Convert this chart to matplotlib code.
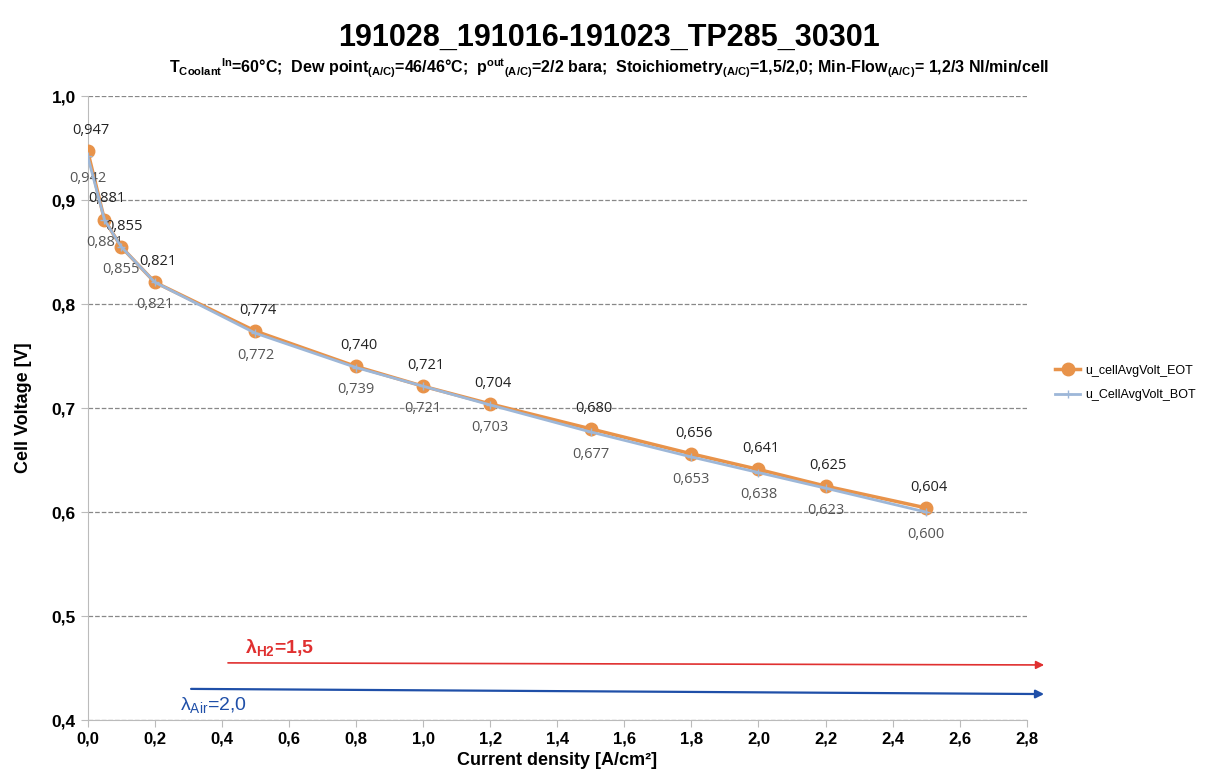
import matplotlib
matplotlib.use('Agg')
import matplotlib.pyplot as plt

plt.rcParams['font.family'] = ['Liberation Sans', 'DejaVu Sans']
plt.rcParams['mathtext.fontset'] = 'custom'
plt.rcParams['mathtext.rm'] = 'Liberation Sans'
plt.rcParams['mathtext.bf'] = 'Liberation Sans:bold'

# current density [A/cm2] and cell voltages [V]
current = [0.0, 0.05, 0.1, 0.2, 0.5, 0.8, 1.0, 1.2, 1.5, 1.8, 2.0, 2.2, 2.5]
volt_eot = [0.947, 0.881, 0.855, 0.821, 0.774, 0.740, 0.721, 0.704, 0.680,
            0.656, 0.641, 0.625, 0.604]
volt_bot = [0.942, 0.881, 0.855, 0.821, 0.772, 0.739, 0.721, 0.703, 0.677,
            0.653, 0.638, 0.623, 0.600]

xticks = [0.0, 0.2, 0.4, 0.6, 0.8, 1.0, 1.2, 1.4, 1.6, 1.8, 2.0, 2.2, 2.4, 2.6, 2.8]
yticks = [0.4, 0.5, 0.6, 0.7, 0.8, 0.9, 1.0]

c_eot = '#E8934A'
c_bot = '#9DB7D8'


def comma(v, nd):
    return ('{:.%df}' % nd).format(v).replace('.', ',')


fig = plt.figure(figsize=(12.18, 7.81), dpi=100)
ax = fig.add_axes([0.072, 0.078, 0.771, 0.799])

ax.plot(current, volt_eot, color=c_eot, lw=2.5, marker='o', ms=9,
        label='u_cellAvgVolt_EOT', zorder=3)
ax.plot(current, volt_bot, color=c_bot, lw=2, marker='+', ms=6,
        label='u_CellAvgVolt_BOT', zorder=4)

for x, v in zip(current, volt_eot):
    ax.annotate(comma(v, 3), (x, v), xytext=(2, 15), textcoords='offset points',
                ha='center', va='center', fontsize=10.5, color='#222222',
                family=['Open Sans', 'DejaVu Sans'])
for x, v in zip(current, volt_bot):
    ax.annotate(comma(v, 3), (x, v), xytext=(0, -16), textcoords='offset points',
                ha='center', va='center', fontsize=10.5, color='#555555',
                family=['Open Sans', 'DejaVu Sans'])

# stoichiometry arrows
ax.annotate('', xy=(2.86, 0.453), xytext=(0.41, 0.455),
            arrowprops=dict(arrowstyle='-|>', color='#E03030', lw=1.2,
                            mutation_scale=12), annotation_clip=False)
ax.annotate('', xy=(2.86, 0.425), xytext=(0.30, 0.430),
            arrowprops=dict(arrowstyle='-|>', color='#1F4FA8', lw=1.6,
                            mutation_scale=12), annotation_clip=False)
ax.text(0.47, 0.469, r'λ$_{\mathbf{H2}}$=1,5', color='#E03030',
        fontsize=14, fontweight='bold', va='center')
ax.text(0.275, 0.414, r'λ$_{\mathrm{Air}}$=2,0', color='#1F4FA8',
        fontsize=14, va='center')

ax.set_xlim(0, 2.8)
ax.set_ylim(0.4, 1.0)
ax.set_xticks(xticks)
ax.set_xticklabels([comma(t, 1) for t in xticks], fontsize=12, fontweight='bold')
ax.set_yticks(yticks)
ax.set_yticklabels([comma(t, 1) for t in yticks], fontsize=12.5, fontweight='bold')
ax.grid(axis='y', linestyle='--', color='#888888', lw=0.9)
ax.set_axisbelow(True)
for s in ['top', 'right']:
    ax.spines[s].set_visible(False)
for s in ['left', 'bottom']:
    ax.spines[s].set_color('#BBBBBB')
ax.tick_params(axis='both', color='#BBBBBB', length=5)

ax.set_xlabel('Current density [A/cm²]', fontsize=13, fontweight='bold',
              labelpad=4)
ax.set_ylabel('Cell Voltage [V]', fontsize=13, fontweight='bold', labelpad=14)

fig.text(0.5, 0.951, '191028_191016-191023_TP285_30301', ha='center',
         va='center', fontsize=22, fontweight='bold')
fig.text(0.5, 0.913,
         r'T$_{\mathbf{Coolant}}$$^{\mathbf{In}}$=60°C;  '
         r'Dew point$_{\mathbf{(A/C)}}$=46/46°C;  '
         r'p$^{\mathbf{out}}$$_{\mathbf{(A/C)}}$=2/2 bara;  '
         r'Stoichiometry$_{\mathbf{(A/C)}}$=1,5/2,0; '
         r'Min-Flow$_{\mathbf{(A/C)}}$= 1,2/3 Nl/min/cell',
         ha='center', va='center', fontsize=11.5, fontweight='bold')

ax.legend(loc='center left', bbox_to_anchor=(1.025, 0.54), frameon=False,
          fontsize=9, handlelength=2.0, handletextpad=0.4, labelspacing=1.0,
          borderaxespad=0)

fig.savefig('out.png', dpi=100)
